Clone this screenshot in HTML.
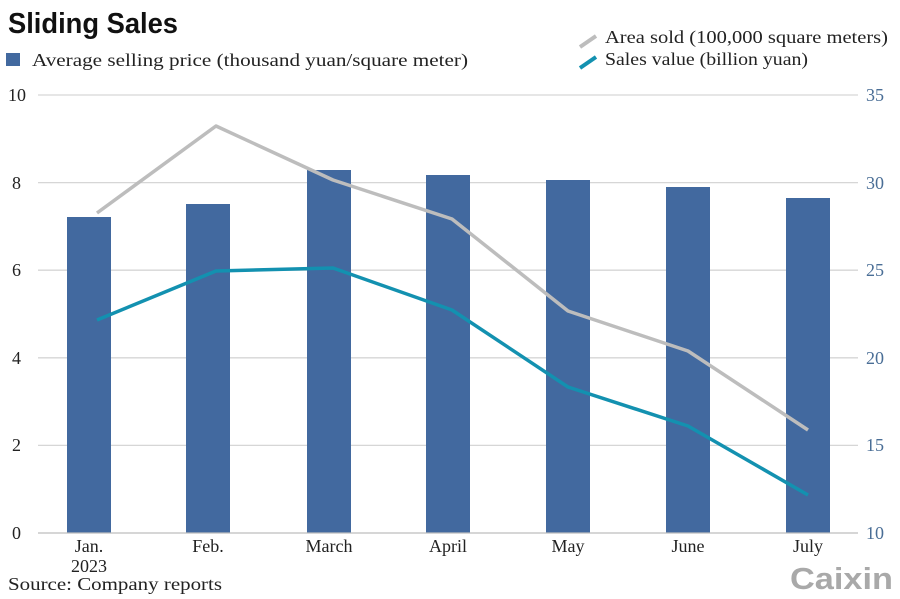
<!DOCTYPE html>
<html><head><meta charset="utf-8"><style>
html,body{margin:0;padding:0;background:#fff;}
svg{display:block;}
text{font-family:"Liberation Serif",serif;}
</style></head><body>
<svg width="900" height="599" viewBox="0 0 900 599" xmlns="http://www.w3.org/2000/svg">
<text x="8" y="33" font-family="Liberation Sans" font-weight="bold" font-size="29" style="font-family:'Liberation Sans',sans-serif" textLength="170" lengthAdjust="spacingAndGlyphs" fill="#111">Sliding Sales</text>
<rect x="6" y="53" width="14" height="13" fill="#42699f"/>
<text x="32" y="66" font-size="18" textLength="436" lengthAdjust="spacingAndGlyphs" fill="#222">Average selling price (thousand yuan/square meter)</text>
<line x1="580" y1="47" x2="596" y2="36" stroke="#bdbdbd" stroke-width="4"/>
<text x="605" y="43" font-size="18" textLength="283" lengthAdjust="spacingAndGlyphs" fill="#222">Area sold (100,000 square meters)</text>
<line x1="580" y1="68" x2="596" y2="57" stroke="#1391b0" stroke-width="4"/>
<text x="605" y="65" font-size="18" textLength="203" lengthAdjust="spacingAndGlyphs" fill="#222">Sales value (billion yuan)</text>
<g stroke="#d6d6d6" stroke-width="1.3">
<line x1="38" y1="95" x2="858" y2="95"/><line x1="38" y1="182.6" x2="858" y2="182.6"/><line x1="38" y1="270.2" x2="858" y2="270.2"/><line x1="38" y1="357.8" x2="858" y2="357.8"/><line x1="38" y1="445.4" x2="858" y2="445.4"/>
</g>
<g font-size="18" fill="#222">
<text x="8" y="101">10</text><text x="12" y="189">8</text><text x="12" y="276">6</text><text x="12" y="364">4</text><text x="12" y="451">2</text><text x="12" y="539">0</text>
</g>
<g font-size="18" fill="#4a6e96">
<text x="866" y="101">35</text><text x="866" y="189">30</text><text x="866" y="276">25</text><text x="866" y="364">20</text><text x="866" y="451">15</text><text x="866" y="539">10</text>
</g>
<g fill="#42699f">
<rect x="67" y="217" width="44" height="316"/>
<rect x="186" y="204" width="44" height="329"/>
<rect x="307" y="170" width="44" height="363"/>
<rect x="426" y="175" width="44" height="358"/>
<rect x="546" y="180" width="44" height="353"/>
<rect x="666" y="187" width="44" height="346"/>
<rect x="786" y="198" width="44" height="335"/>
</g>
<line x1="38" y1="533" x2="858" y2="533" stroke="#bdbdbd" stroke-width="1.3"/>
<polyline points="97,213 216,126 333,180 452,219 568,311 688,351 808,430" fill="none" stroke="#bdbdbd" stroke-width="3.5" stroke-linejoin="round"/>
<polyline points="97,320 216,271 333,268 452,310 568,387 688,426 808,495" fill="none" stroke="#1391b0" stroke-width="3.5" stroke-linejoin="round"/>
<g font-size="18" fill="#222" text-anchor="middle">
<text x="89" y="552">Jan.</text><text x="89" y="572">2023</text>
<text x="208" y="552">Feb.</text><text x="329" y="552">March</text><text x="448" y="552">April</text>
<text x="568" y="552">May</text><text x="688" y="552">June</text><text x="808" y="552">July</text>
</g>
<text x="8" y="590" font-size="18" textLength="214" lengthAdjust="spacingAndGlyphs" fill="#222">Source: Company reports</text>
<text x="790" y="589" font-size="31" font-weight="bold" style="font-family:'Liberation Sans',sans-serif" textLength="103" lengthAdjust="spacingAndGlyphs" fill="#a9a9a9">Caixin</text>
</svg>
</body></html>
